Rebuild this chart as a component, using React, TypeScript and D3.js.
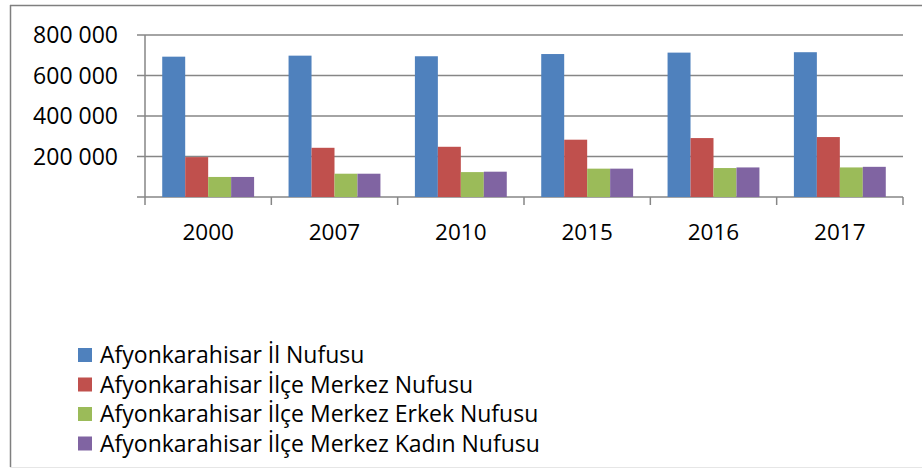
import React from "react";
import * as d3 from "d3";

const width = 922;
const height = 469;
const plot = { left: 145, right: 903, top: 35, bottom: 197 };

const years = ["2000", "2007", "2010", "2015", "2016", "2017"];
const seriesNames = [
  "Afyonkarahisar İl Nufusu",
  "Afyonkarahisar İlçe Merkez Nufusu",
  "Afyonkarahisar İlçe Merkez Erkek Nufusu",
  "Afyonkarahisar İlçe Merkez Kadın Nufusu",
];
const colors = ["#4F81BD", "#C0504D", "#9BBB59", "#8064A2"];

// values, one array per series
const ilNufusu = [693000, 698000, 695000, 706000, 713000, 715000];
const merkezNufusu = [197000, 243000, 248000, 283000, 291000, 296000];
const erkekNufusu = [99000, 115000, 123000, 140000, 143000, 146000];
const kadinNufusu = [99000, 115000, 125000, 140000, 146000, 149000];
const seriesValues = [ilNufusu, merkezNufusu, erkekNufusu, kadinNufusu];

const yTicks = [0, 200000, 400000, 600000, 800000];
const font = "'Open Sans', sans-serif";
const fontSize = 22.5;
const gridColor = "#868686";

const fmt = (v: number) => (v === 0 ? "" : d3.format(",")(v).replace(/,/g, " "));

export default function App() {
  const x0 = d3.scaleBand().domain(years).range([plot.left, plot.right]).padding(0);
  const x1 = d3
    .scaleBand()
    .domain(seriesNames)
    .range([0, x0.bandwidth()])
    .paddingInner(0)
    .paddingOuter(0.75);
  const y = d3.scaleLinear().domain([0, 800000]).range([plot.bottom, plot.top]);

  const tickEdges = years.map((d) => x0(d) as number).concat([plot.right]);

  return (
    <svg width={width} height={height} style={{ display: "block", position: "absolute", left: 0, top: 0 }}>
      <rect x={0} y={0} width={width} height={height} fill="#fff" />
      {/* chart frame */}
      <line x1={10} y1={5.5} x2={width} y2={5.5} stroke="#7f7f7f" strokeWidth={1.5} />
      <line x1={10.5} y1={5} x2={10.5} y2={467} stroke="#7f7f7f" strokeWidth={1.5} />
      <line x1={10} y1={467.5} x2={width} y2={467.5} stroke="#e6e6e6" strokeWidth={1} />

      {/* gridlines + y ticks */}
      {yTicks.map((t) => (
        <g key={t}>
          <line x1={plot.left - 8} x2={plot.right} y1={y(t)} y2={y(t)} stroke={gridColor} strokeWidth={1.5} />
          <text
            x={118}
            y={y(t)}
            dy="0.35em"
            textAnchor="end"
            fontFamily={font}
            fontSize={23}
            fill="#000"
          >
            {fmt(t)}
          </text>
        </g>
      ))}
      <line x1={plot.left} x2={plot.left} y1={plot.top} y2={plot.bottom} stroke={gridColor} strokeWidth={1.5} />
      {tickEdges.map((tx, i) => (
        <line key={i} x1={tx} x2={tx} y1={plot.bottom} y2={plot.bottom + 8} stroke={gridColor} strokeWidth={1.5} />
      ))}

      {/* bars */}
      {years.map((yr, i) => (
        <g key={yr} transform={`translate(${x0(yr)},0)`}>
          {seriesNames.map((s, j) => {
            const v = seriesValues[j][i];
            return (
              <rect
                key={s}
                x={x1(s)}
                y={y(v)}
                width={x1.bandwidth()}
                height={y(0) - y(v)}
                fill={colors[j]}
              />
            );
          })}
          <text
            x={x0.bandwidth() / 2}
            y={232}
            dy="0.35em"
            textAnchor="middle"
            fontFamily={font}
            fontSize={fontSize}
            fill="#000"
          >
            {yr}
          </text>
        </g>
      ))}

      {/* legend */}
      {seriesNames.map((s, j) => (
        <g key={s} transform={`translate(78,${355 + j * 29.5})`}>
          <rect x={0} y={-7} width={14} height={14} fill={colors[j]} />
          <text x={22} y={0} dy="0.35em" fontFamily={font} fontSize={23} fill="#000">
            {s}
          </text>
        </g>
      ))}
    </svg>
  );
}
